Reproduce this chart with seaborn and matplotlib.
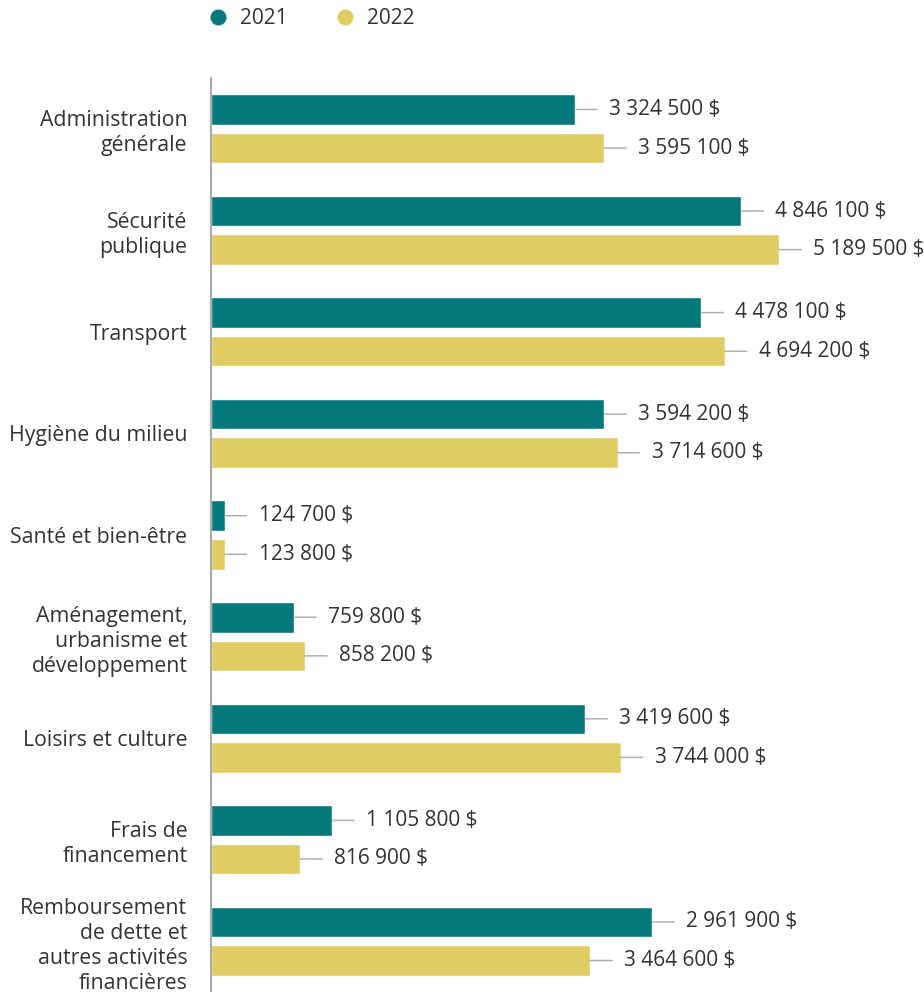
import matplotlib
matplotlib.use("Agg")
import matplotlib.pyplot as plt
from matplotlib.lines import Line2D
import numpy as np
import pandas as pd
import seaborn as sns

# Data
categories = [
    "Administration\ngénérale",
    "Sécurité\npublique",
    "Transport",
    "Hygiène du milieu",
    "Santé et bien-être",
    "Aménagement,\nurbanisme et\ndéveloppement",
    "Loisirs et culture",
    "Frais de\nfinancement",
    "Remboursement\nde dette et\nautres activités\nfinancières",
]
# bar lengths as drawn (the last 2021 bar is drawn longer than its label says)
values_2021 = [3324500, 4846100, 4478100, 3594200, 124700, 759800, 3419600, 1105800, 4030000]
values_2022 = [3595100, 5189500, 4694200, 3714600, 123800, 858200, 3744000, 816900, 3464600]
labels_2021 = ["3 324 500 $", "4 846 100 $", "4 478 100 $", "3 594 200 $", "124 700 $",
               "759 800 $", "3 419 600 $", "1 105 800 $", "2 961 900 $"]
labels_2022 = ["3 595 100 $", "5 189 500 $", "4 694 200 $", "3 714 600 $", "123 800 $",
               "858 200 $", "3 744 000 $", "816 900 $", "3 464 600 $"]
years = ["2021", "2022"]
colors = ["#05787C", "#DFCD63"]

df = pd.DataFrame({
    "categorie": categories * 2,
    "montant": values_2021 + values_2022,
    "annee": [years[0]] * len(categories) + [years[1]] * len(categories),
})

sns.set_style("white")
plt.rcParams["font.family"] = ["Open Sans", "DejaVu Sans"]
text_color = "#333333"

fig = plt.figure(figsize=(9.24, 9.92), dpi=100)
ax = fig.add_axes([211 / 924, 0, 713 / 924, 914 / 992])

sns.barplot(data=df, y="categorie", x="montant", hue="annee", hue_order=years,
            palette=colors, orient="h", width=0.76, gap=0.21, legend=False,
            saturation=1, ax=ax)

# 568 px for 5 189 500 $ in the reference
ax.set_xlim(0, 713 / (568 / 5189500))
ax.set_ylim(len(categories) - 0.5, -0.5)
ax.set_xlabel("")
ax.set_ylabel("")
ax.set_xticks([])
ax.tick_params(axis="y", length=0, pad=17, labelsize=15.3, labelcolor=text_color)
for lab in ax.get_yticklabels():
    lab.set_linespacing(1.25)

for s in ["top", "right", "bottom"]:
    ax.spines[s].set_visible(False)
ax.spines["left"].set_color("#AAAAAA")
ax.spines["left"].set_linewidth(1.5)

for container, texts in zip(ax.containers, [labels_2021, labels_2022]):
    for bar, txt in zip(container, texts):
        v = bar.get_width()
        yc = bar.get_y() + bar.get_height() / 2
        ax.annotate("", xy=(v, yc), xytext=(22, 0), textcoords="offset pixels",
                    arrowprops=dict(arrowstyle="-", color="#B0B0B0", lw=1.1,
                                    shrinkA=0, shrinkB=0),
                    annotation_clip=False)
        ax.annotate(txt, xy=(v, yc), xytext=(34, 0),
                    textcoords="offset pixels", va="center", ha="left",
                    fontsize=15, color=text_color, annotation_clip=False)

handles = [Line2D([0], [0], marker="o", linestyle="", markersize=10.5,
                  markerfacecolor=c, markeredgecolor=c) for c in colors]
fig.legend(handles, years, loc="center left",
           bbox_to_anchor=(207.6 / 924, 1 - 19 / 992), ncol=2, frameon=False,
           fontsize=15, handlelength=1.0, handletextpad=0.56, columnspacing=2.24,
           borderpad=0, borderaxespad=0, labelcolor=text_color)

fig.savefig("out.png", dpi=100)
